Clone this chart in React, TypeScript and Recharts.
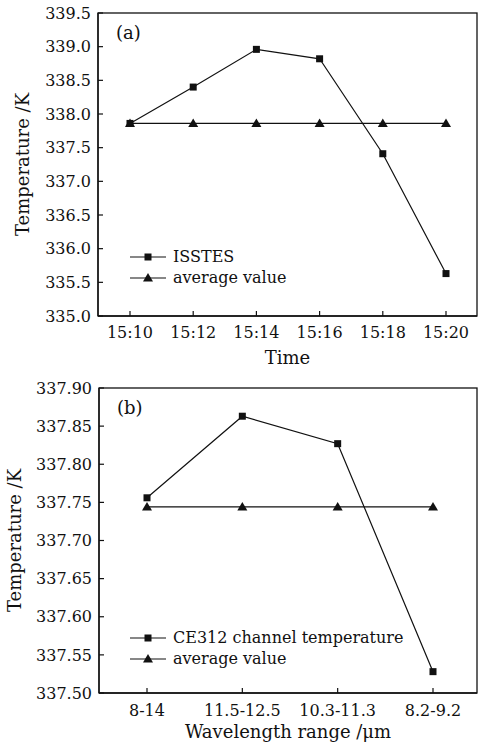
import React from "react";
import { LineChart, Line, XAxis, YAxis, Legend } from "recharts";

const times = ["15:10", "15:12", "15:14", "15:16", "15:18", "15:20"];
const isstes = [337.86, 338.4, 338.96, 338.82, 337.41, 335.63];
const avgA = [337.86, 337.86, 337.86, 337.86, 337.86, 337.86];
const ticksA = [335.0, 335.5, 336.0, 336.5, 337.0, 337.5, 338.0, 338.5, 339.0, 339.5];

const bands = ["8-14", "11.5-12.5", "10.3-11.3", "8.2-9.2"];
const ce312 = [337.756, 337.863, 337.827, 337.528];
const avgB = [337.744, 337.744, 337.744, 337.744];
const ticksB = [337.5, 337.55, 337.6, 337.65, 337.7, 337.75, 337.8, 337.85, 337.9];

const FONT = "'DejaVu Serif', serif";
const INK = "#111";
const W = 481;
const RIGHT = 4;

const dataA = times.map((t, i) => ({ t, v: isstes[i], avg: avgA[i] }));
const dataB = bands.map((t, i) => ({ t, v: ce312[i], avg: avgB[i] }));

const square = (p: any) => (
  <rect key={`s${p.index}`} x={p.cx - 3.5} y={p.cy - 3.5} width={7} height={7} fill={INK} />
);
const triangle = (p: any) => (
  <polygon
    key={`t${p.index}`}
    points={`${p.cx},${p.cy - 5} ${p.cx - 5},${p.cy + 3.5} ${p.cx + 5},${p.cy + 3.5}`}
    fill={INK}
  />
);

function LegendBox({ first }: { first: string }) {
  const row = (name: string, tri: boolean) => (
    <div style={{ display: "flex", alignItems: "center", height: 21, whiteSpace: "nowrap" }}>
      <svg width={38} height={12} style={{ marginRight: 5 }}>
        <line x1={0} y1={6} x2={36} y2={6} stroke={INK} strokeWidth={1.2} />
        {tri ? (
          <polygon points="18,1 13,9.5 23,9.5" fill={INK} />
        ) : (
          <rect x={14.5} y={2.5} width={7} height={7} fill={INK} />
        )}
      </svg>
      <span>{name}</span>
    </div>
  );
  return (
    <div style={{ fontFamily: FONT, fontSize: 16, color: INK, lineHeight: "21px" }}>
      {row(first, false)}
      {row("average value", true)}
    </div>
  );
}

type Cfg = {
  data: any[];
  ticks: number[];
  domain: [number, number];
  digits: number;
  tag: string;
  xTitle: string;
  seriesName: string;
  height: number;
  top: number;
  yWidth: number;
  xHeight: number;
  pad: { left: number; right: number };
  yLabelX: number;
  xTickMargin: number;
  xTitleDy: number;
  legendTop: number;
};

function Panel(c: Cfg) {
  const frameW = W - RIGHT - c.yWidth;
  const frameH = c.height - c.xHeight - c.top;
  return (
    <div style={{ position: "relative", width: W, height: c.height }}>
      <LineChart
        width={W}
        height={c.height}
        data={c.data}
        margin={{ top: c.top, right: RIGHT, left: 0, bottom: 0 }}
      >
        <XAxis
          dataKey="t"
          height={c.xHeight}
          padding={c.pad}
          tickSize={-5}
          tickMargin={c.xTickMargin}
          axisLine={{ stroke: INK, strokeWidth: 1.3 }}
          tickLine={{ stroke: INK, strokeWidth: 1.2 }}
          tick={{ fill: INK, fontSize: 16, fontFamily: FONT }}
          interval={0}
          label={{
            content: (p: any) => (
              <text
                x={p.viewBox.x + p.viewBox.width / 2}
                y={p.viewBox.y + c.xTitleDy}
                dy="0.35em"
                textAnchor="middle"
                fill={INK}
                fontSize={18}
                fontFamily={FONT}
              >
                {c.xTitle}
              </text>
            ),
          }}
        />
        <YAxis
          width={c.yWidth}
          domain={c.domain}
          ticks={c.ticks}
          type="number"
          allowDataOverflow
          tickSize={-5}
          tickMargin={12}
          tickFormatter={(v: number) => v.toFixed(c.digits)}
          axisLine={{ stroke: INK, strokeWidth: 1.3 }}
          tickLine={{ stroke: INK, strokeWidth: 1.2 }}
          tick={{ fill: INK, fontSize: 16, fontFamily: FONT }}
          label={{
            content: (p: any) => {
              const cx = c.yLabelX;
              const cy = p.viewBox.y + p.viewBox.height / 2;
              const px = p.viewBox.x + p.viewBox.width;
              return (
                <g>
                  <text
                    x={cx}
                    y={cy}
                    dy="0.35em"
                    textAnchor="middle"
                    transform={`rotate(-90 ${cx} ${cy})`}
                    fill={INK}
                    fontSize={18}
                    fontFamily={FONT}
                  >
                    Temperature /K
                  </text>
                  <text
                    x={px + 18}
                    y={p.viewBox.y + 20}
                    dy="0.35em"
                    fill={INK}
                    fontSize={18}
                    fontFamily={FONT}
                  >
                    {c.tag}
                  </text>
                </g>
              );
            },
          }}
        />
        <Legend
          layout="horizontal"
          verticalAlign="middle"
          align="center"
          wrapperStyle={{ left: 130, top: c.legendTop, width: "auto" }}
          content={() => <LegendBox first={c.seriesName} />}
        />
        <Line
          dataKey="v"
          stroke={INK}
          strokeWidth={1.2}
          dot={square}
          activeDot={false}
          isAnimationActive={false}
        />
        <Line
          dataKey="avg"
          stroke={INK}
          strokeWidth={1.2}
          dot={triangle}
          activeDot={false}
          isAnimationActive={false}
        />
      </LineChart>
      {/* frame round the plot area, drawn on top of the chart */}
      <svg
        width={W}
        height={c.height}
        style={{ position: "absolute", left: 0, top: 0, pointerEvents: "none" }}
      >
        <rect
          x={c.yWidth}
          y={c.top}
          width={frameW}
          height={frameH}
          fill="none"
          stroke={INK}
          strokeWidth={1.3}
        />
      </svg>
    </div>
  );
}

export default function App() {
  return (
    <div style={{ position: "absolute", left: 0, top: 0, width: W, height: 745, background: "#fff" }}>
      <Panel
        data={dataA}
        ticks={ticksA}
        domain={[335, 339.5]}
        digits={1}
        tag="(a)"
        xTitle="Time"
        seriesName="ISSTES"
        height={372}
        top={13}
        yWidth={98}
        xHeight={56}
        pad={{ left: 32, right: 31 }}
        yLabelX={23}
        xTickMargin={16}
        xTitleDy={42}
        legendTop={246}
      />
      <Panel
        data={dataB}
        ticks={ticksB}
        domain={[337.5, 337.9]}
        digits={2}
        tag="(b)"
        xTitle="Wavelength range /μm"
        seriesName="CE312 channel temperature"
        height={373}
        top={16}
        yWidth={99}
        xHeight={52}
        pad={{ left: 48, right: 44 }}
        yLabelX={15}
        xTickMargin={17}
        xTitleDy={39}
        legendTop={255}
      />
    </div>
  );
}
